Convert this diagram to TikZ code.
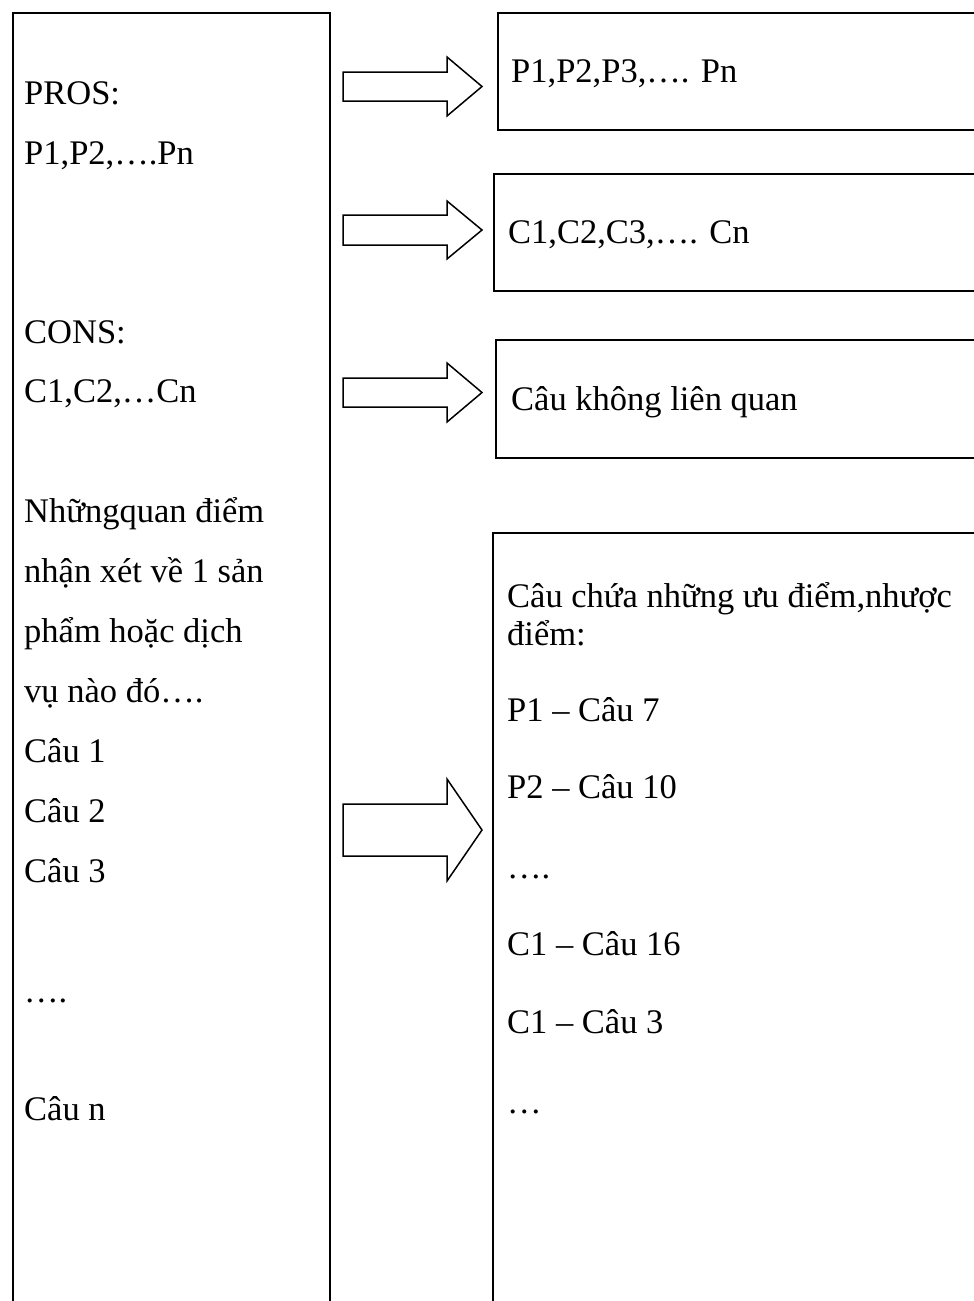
\documentclass[tikz,border=0pt]{standalone}
\usepackage{fontspec}
\setmainfont{Liberation Serif}
\tikzset{
  boxline/.style={draw=black, line width=2.2pt, fill=none, rectangle, inner sep=0pt},
  arrowline/.style={draw=black, line width=1.5pt, line join=miter},
  txt/.style={anchor=base west, inner sep=0pt, font=\fontsize{34.5}{40}\selectfont},
}
\newcommand{\blockarr}[4]{%
  \draw[arrowline] (343,{#2-#3}) coordinate (#1s) -- (447,{#2-#3}) -- (447,{#2-#4}) -- (482,#2) coordinate (#1t) -- (447,{#2+#4}) -- (447,{#2+#3}) -- (343,{#2+#3}) -- cycle;}
\begin{document}
\begin{tikzpicture}[x=1pt,y=-1pt]
\useasboundingbox (0,0) rectangle (974,1301);
\fill[white] (0,0) rectangle (974,1301);
\clip (0,0) rectangle (974,1301);
% boxes
\node[boxline, anchor=north west, minimum width=317pt, minimum height=1330pt] (L) at (12,12) {};
\node[boxline, anchor=north west, minimum width=500pt, minimum height=117pt] (B1) at (497,12) {};
\node[boxline, anchor=north west, minimum width=500pt, minimum height=117pt] (B2) at (493,173) {};
\node[boxline, anchor=north west, minimum width=500pt, minimum height=118pt] (B3) at (495,339) {};
\node[boxline, anchor=north west, minimum width=500pt, minimum height=800pt] (B4) at (492,532) {};
% block arrows
\blockarr{a1}{86.5}{14.5}{29.5}
\blockarr{a2}{230}{15}{29}
\blockarr{a3}{392.5}{14.5}{29.5}
\blockarr{a4}{830}{26}{51}
% left texts
\node[txt] (t1) at (24,104) {PROS:};
\node[txt] (t2) at (24,164) {P1,P2,….Pn};
\node[txt] (t3) at (24,343) {CONS:};
\node[txt] (t4) at (24,402) {C1,C2,…Cn};
\node[txt] (t5) at (24,522) {Nhữngquan điểm};
\node[txt] (t6) at (24,582) {nhận xét về 1 sản};
\node[txt] (t7) at (24,642) {phẩm hoặc dịch};
\node[txt] (t8) at (24,702) {vụ nào đó….};
\node[txt] (t9) at (24,762) {Câu 1};
\node[txt] (t10) at (24,822) {Câu 2};
\node[txt] (t11) at (24,882) {Câu 3};
\node[txt] (t12) at (24,1002) {….};
\node[txt] (t13) at (24,1120) {Câu n};
% right texts
\node[txt] (r1) at (511,82) {P1,P2,P3,…. Pn};
\node[txt] (r2) at (508,243) {C1,C2,C3,…. Cn};
\node[txt] (r3) at (511,410) {Câu không liên quan};
\node[txt] (r4) at (507,607) {Câu chứa những ưu điểm,nhược};
\node[txt] (r5) at (507,645) {điểm:};
\node[txt] (r6) at (507,721) {P1 – Câu 7};
\node[txt] (r7) at (507,798) {P2 – Câu 10};
\node[txt] (r8) at (507,878) {….};
\node[txt] (r9) at (507,955) {C1 – Câu 16};
\node[txt] (r10) at (507,1033) {C1 – Câu 3};
\node[txt] (r11) at (507,1113) {…};
\end{tikzpicture}
\end{document}
